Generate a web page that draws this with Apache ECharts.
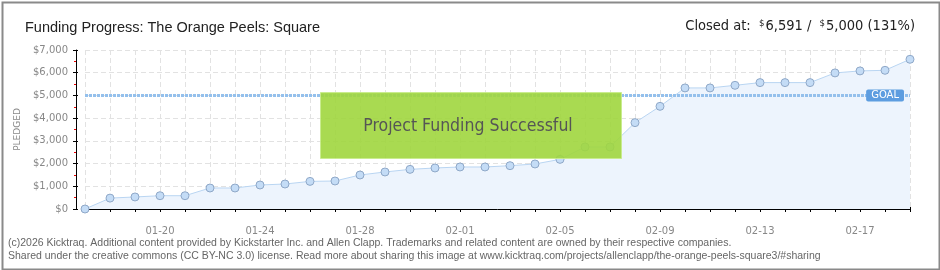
<!DOCTYPE html>
<html>
<head>
<meta charset="utf-8">
<script src="https://cdn.jsdelivr.net/npm/echarts@6/dist/echarts.min.js"></script>
<style>
html,body{margin:0;padding:0;background:#fff;}
#c{width:940px;height:270px;}
</style>
</head>
<body>
<div id="c"></div>
<script>
// ---- data ----
const dates = ['01-17','01-18','01-19','01-20','01-21','01-22','01-23','01-24','01-25','01-26',
  '01-27','01-28','01-29','01-30','01-31','02-01','02-02','02-03','02-04','02-05',
  '02-06','02-07','02-08','02-09','02-10','02-11','02-12','02-13','02-14','02-15',
  '02-16','02-17','02-18','02-19'];
const pledged = [0,480,530,585,585,925,925,1057,1100,1216,
  1233,1497,1630,1745,1806,1850,1850,1907,1982,2185,
  2731,2731,3802,4520,5330,5330,5445,5564,5564,5564,
  5991,6079,6106,6591];
const goal = 5000;
const labeledDates = ['01-20','01-24','01-28','02-01','02-05','02-09','02-13','02-17'];

const chart = echarts.init(document.getElementById('c'), null, {renderer:'canvas'});
const fmt = v => '$' + v.toLocaleString('en-US');
const COND = '"DejaVu Sans Condensed", "Liberation Sans", sans-serif';

const option = {
  backgroundColor:'#fff',
  animation:false,
  title:[
    {text:'Funding Progress: The Orange Peels: Square', left:20, top:15,
     textStyle:{fontFamily:'Liberation Sans', fontSize:14.5, fontWeight:'normal', color:'#222'}},
    {text:'{m|Closed at:  }{d|$}{m|6,591 /  }{d|$}{m|5,000 (131%)}', right:20, top:14,
     textStyle:{fontWeight:'normal', rich:{
       m:{fontFamily:COND, fontSize:14.5, fontWeight:'normal', color:'#222'},
       d:{fontFamily:COND, fontSize:9.5, fontWeight:'normal', color:'#222', verticalAlign:'top', padding:[0,1,5,0]}
     }}}
  ],
  grid:{left:85, right:30, top:50, bottom:61},
  xAxis:[
    {type:'category', data:dates, boundaryGap:false, offset:11,
     axisLine:{lineStyle:{color:'#000', width:1}},
     axisTick:{show:true, interval:0, length:3, lineStyle:{color:'#000'}},
     axisLabel:{interval:(i,v)=>labeledDates.indexOf(v)>=0, color:'#888', fontSize:10,
                fontFamily:'DejaVu Sans', margin:6},
     splitLine:{show:true, interval:0, lineStyle:{color:'#e2e2e2', type:[5,3]}}},
    {type:'category', data:dates, boundaryGap:false, offset:11, position:'bottom',
     axisLine:{show:false},
     axisTick:{show:true, inside:true, interval:0, length:2, lineStyle:{color:'#000'}},
     axisLabel:{show:false}, splitLine:{show:false}}
  ],
  yAxis:[
    {type:'value', min:0, max:7000, interval:1000, offset:9,
     name:'PLEDGED', nameLocation:'middle', nameRotate:90, nameGap:53,
     nameTextStyle:{color:'#888', fontSize:9, fontFamily:'DejaVu Sans'},
     axisLine:{show:true, lineStyle:{color:'#000'}},
     axisTick:{show:true, length:3, lineStyle:{color:'#000'}},
     minorTick:{show:true, splitNumber:2, length:2, lineStyle:{color:'#e00'}},
     axisLabel:{formatter:v=>fmt(v), color:'#888', fontSize:10, fontFamily:'DejaVu Sans', margin:8},
     splitLine:{show:true, lineStyle:{color:'#e2e2e2', type:[5,3]}}},
    {type:'value', min:0, max:7000, interval:1000, offset:9, position:'left',
     axisLine:{show:false},
     axisTick:{show:true, inside:true, length:2, lineStyle:{color:'#000'}},
     axisLabel:{show:false}, splitLine:{show:false}}
  ],
  series:[{
    type:'line', data:pledged, xAxisIndex:0, yAxisIndex:0,
    symbol:'circle', symbolSize:8,
    itemStyle:{color:'#c4dcf6', borderColor:'#8fa8c8', borderWidth:1},
    lineStyle:{color:'#b9d5f2', width:1},
    areaStyle:{color:'#edf4fd', opacity:1},
    markLine:{
      silent:true, symbol:'none',
      lineStyle:{color:'#94c0ec', width:3, type:[3,1]},
      label:{show:true, formatter:'GOAL', position:'insideEnd', distance:6,
             backgroundColor:'#5d9de0', color:'#fff', fontSize:10, fontFamily:'DejaVu Sans',
             padding:[1,5,1,5], borderRadius:2},
      data:[{yAxis:goal}]
    }
  }],
  graphic:[
    {type:'rect', left:320, top:92, z:100,
     shape:{width:301, height:66},
     style:{fill:'rgba(160,214,62,0.9)', stroke:'rgba(200,235,140,0.9)', lineWidth:1}},
    {type:'text', x:468, y:126, z:101,
     style:{text:'Project Funding Successful', fontFamily:COND, fontSize:17.5,
            fill:'#555', align:'center', verticalAlign:'middle',
            textShadowColor:'#fff', textShadowOffsetX:1, textShadowOffsetY:1, textShadowBlur:0}},
    {type:'text', x:8, y:243, z:101,
     style:{text:'(c)2026 Kicktraq. Additional content provided by Kickstarter Inc. and Allen Clapp. Trademarks and related content are owned by their respective companies.',
            fontFamily:'Liberation Sans', fontSize:10.5, fill:'#666', verticalAlign:'middle'}},
    {type:'text', x:8, y:256, z:101,
     style:{text:'Shared under the creative commons (CC BY-NC 3.0) license. Read more about sharing this image at www.kicktraq.com/projects/allenclapp/the-orange-peels-square3/#sharing',
            fontFamily:'Liberation Sans', fontSize:10.5, fill:'#666', verticalAlign:'middle'}},
    {type:'rect', left:0, top:0, z:200, silent:true,
     shape:{x:1, y:1, width:937, height:267},
     style:{fill:'none', stroke:'#8a8a8a', lineWidth:2}}
  ]
};
chart.setOption(option);
</script>
</body>
</html>
